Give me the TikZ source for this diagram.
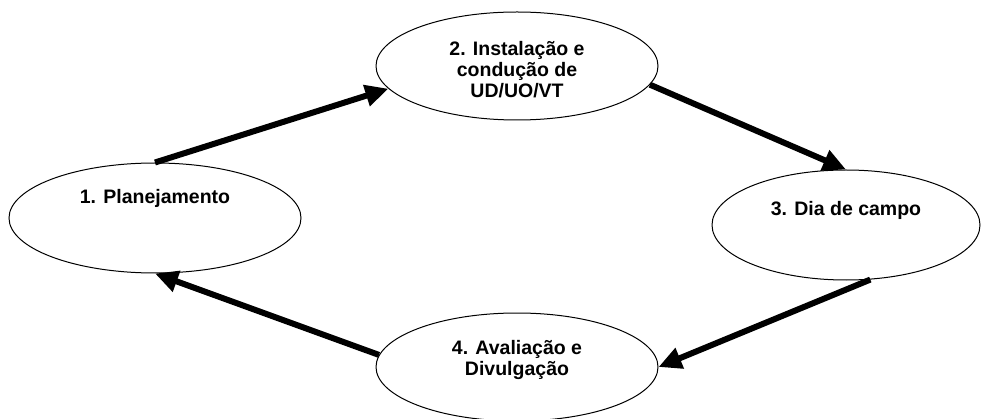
\documentclass[tikz,border=0pt]{standalone}
\usepackage{fontspec}
\setmainfont{Liberation Sans}
\usetikzlibrary{shapes.geometric,arrows.meta}

\tikzstyle{stage}=[draw=black,fill=white,ellipse,line width=1pt,inner sep=0pt]
\tikzstyle{stagetext}=[align=center,font=\fontsize{19.5}{21}\selectfont\bfseries]
\tikzstyle{flow}=[draw=black,line width=6pt,-{Triangle[length=23pt,width=21pt]}]

\begin{document}
\begin{tikzpicture}[x=1pt,y=-1pt]

   \useasboundingbox (0,0) rectangle (981,419);

   % Stages of the cycle

   \node[stage,minimum width=292pt,minimum height=110pt,
      label={[stagetext,yshift=20pt]center:1. Planejamento}] (plan) at (155,218) {};

   \node[stage,minimum width=282pt,minimum height=108pt,
      label={[stagetext,yshift=-4pt]center:2. Instalação e\\condução de\\UD/UO/VT}] (inst) at (517,66) {};

   \node[stage,minimum width=268pt,minimum height=110pt,
      label={[stagetext,yshift=15pt]center:3. Dia de campo}] (dia) at (846,225) {};

   \node[stage,minimum width=282pt,minimum height=108pt,
      label={[stagetext,yshift=7pt]center:4. Avaliação e\\Divulgação}] (aval) at (517,367) {};

   % Arrows between stages

   \draw[flow] (plan.north) -- (inst.190);
   \draw[flow] (inst.352) -- (dia.north);
   \draw[flow] (dia.294) -- (aval.east);
   \draw[flow] (aval.175) -- (plan.south);

\end{tikzpicture}
\end{document}
